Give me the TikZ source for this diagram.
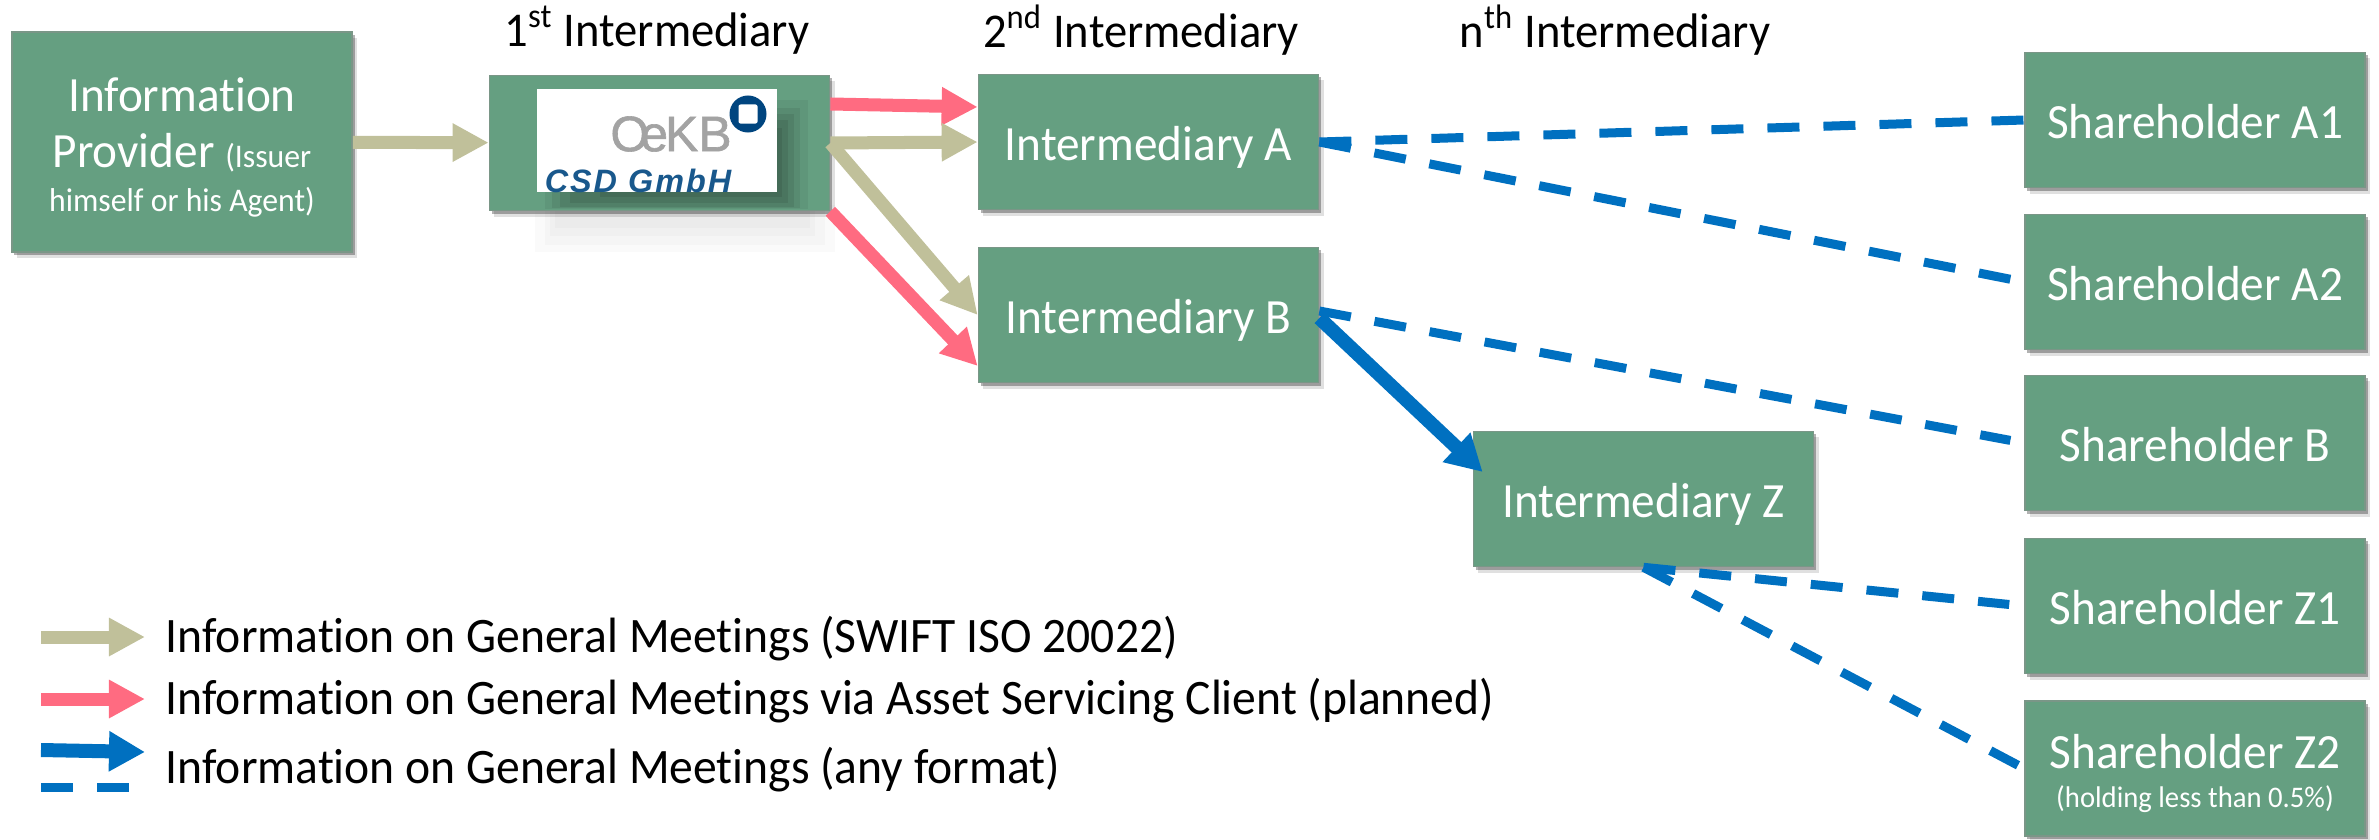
\documentclass[tikz,border=0pt]{standalone}
\usepackage{fontspec}
\setmainfont[FakeStretch=0.96,Ligatures=NoCommon]{Carlito}
\newfontfamily\logofont{Liberation Sans}
\newfontfamily\logoheavy[FakeBold=1.2]{Liberation Sans}
\usetikzlibrary{arrows.meta,shadows,positioning}
\definecolor{boxgreen}{RGB}{101,159,129}
\definecolor{boxedge}{RGB}{122,150,135}
\definecolor{flowtan}{RGB}{192,192,154}
\definecolor{flowpink}{RGB}{255,107,129}
\definecolor{flowblue}{RGB}{0,112,192}
\definecolor{logoblue}{RGB}{0,69,127}
\tikzset{
  box/.style={draw=boxedge,fill=boxgreen,line width=0.015cm,text=white,align=center,inner sep=0pt,
    minimum width=3.40cm,minimum height=1.35cm,text height=0.37cm,text depth=0pt,font=\fontsize{14}{16}\selectfont,
    drop shadow={shadow xshift=0.05cm,shadow yshift=-0.06cm,fill=black,opacity=0.12},
    drop shadow={shadow xshift=0.025cm,shadow yshift=-0.03cm,fill=black,opacity=0.3}},
  boxtext/.style={text=white,font=\fontsize{14}{16}\selectfont},
  smalltext/.style={text=white,font=\fontsize{9.4}{11}\selectfont},
  head/.style={font=\fontsize{13.8}{16}\selectfont},
  info/.style={anchor=west,inner sep=0pt,text height=0.37cm,text depth=0.1cm,font=\fontsize{14.1}{16}\selectfont},
  tanflow/.style={draw=flowtan,line width=0.13cm,-{Triangle[length=0.36cm,width=0.36cm]}},
  pinkflow/.style={draw=flowpink,line width=0.13cm,-{Triangle[length=0.36cm,width=0.36cm]}},
  blueflow/.style={draw=flowblue,line width=0.14cm,-{Triangle[length=0.36cm,width=0.38cm]}},
  bluedash/.style={draw=flowblue,line width=0.09cm,dash pattern=on 0.32cm off 0.24cm}
}
\begin{document}
\begin{tikzpicture}[x=0.01cm,y=-0.01cm]
  \useasboundingbox (0,0) rectangle (2379,839);
  % Soft shadow below the first intermediary
  \fill[black,opacity=0.02] (535,205) rectangle (835,252);
  \fill[black,opacity=0.02] (545,205) rectangle (825,245);
  \fill[black,opacity=0.02] (550,205) rectangle (815,236);
  \fill[black,opacity=0.02] (555,205) rectangle (810,228);
  % The boxes on the left
  \path (182,142) node[box,minimum height=2.2cm] (provider) {};
  \path (182,95) node[boxtext] (providerA) {Information};
  \path (182,153) node[boxtext] (providerB) {Provider {\fontsize{9.4}{11}\selectfont (Issuer}};
  \path (182,202) node[smalltext] (providerC) {himself or his Agent)};
  \path (659.5,143) node[box] (first) {};
  \fill[black,opacity=0.05] (545,100) rectangle (808,209);
  \fill[black,opacity=0.07] (552,108) rectangle (800,208);
  \fill[black,opacity=0.08] (560,114) rectangle (794,207);
  \fill[black,opacity=0.08] (570,120) rectangle (788,203);
  \fill[black,opacity=0.08] (600,128) rectangle (782,197);
  % The logo inside it
  \path (657,140.5) node[fill=white,minimum width=2.4cm,minimum height=1.03cm,inner sep=0pt] (logo) {};
  \begin{scope}
    \clip (logo.south west) rectangle (logo.north east);
    \path (671,134) node[text=black!36,font=\logoheavy\fontsize{14.2}{16}\selectfont,inner sep=0pt] (logoname) {O\kern-0.09cm e\kern-0.03cm KB};
    \path (638,181) node[text=logoblue!90,font=\logofont\bfseries\itshape\fontsize{9.2}{11}\selectfont,inner sep=0pt] (logocsd) {C\kern0.02cm S\kern0.02cm D\kern0.02cm\ G\kern0.02cm m\kern0.02cm b\kern0.02cm H};
  \end{scope}
  \path (748,114) node[circle,fill=logoblue,minimum size=0.37cm,inner sep=0pt] (logocircle) {};
  \path (748,114) node[fill=white,rounded corners=0.02cm,minimum size=0.19cm,inner sep=0pt] (logosquare) {};
  % Intermediaries
  \path (1148.5,142) node[box] (interA) {Intermediary A};
  \path (1148.5,315) node[box] (interB) {Intermediary B};
  \path (1643.5,499) node[box] (interZ) {Intermediary Z};
  % Shareholders
  \path (2195,120) node[box] (holderAa) {Shareholder A1};
  \path (2195,282) node[box] (holderAb) {Shareholder A2};
  \path (2195,443) node[box] (holderB) {Shareholder B};
  \path (2195,606) node[box] (holderZa) {Shareholder Z1};
  \path (2195,768.5) node[box,text height=0pt] (holderZb) {};
  \path (2195,752) node[boxtext] (holderZc) {Shareholder Z2};
  \path (2195,799) node[text=white,font=\fontsize{8.5}{10}\selectfont] (holderZd) {(holding less than 0.5\%)};
  % Column headings
  \path (657,30) node[head] (headA) {1\textsuperscript{st} Intermediary};
  \path (1141,30) node[head] (headB) {2\textsuperscript{nd} Intermediary};
  \path (1615,30) node[head] (headC) {n\textsuperscript{th} Intermediary};
  % Solid flows
  \draw[tanflow] (provider) -- (first);
  \draw[pinkflow] ([yshift=0.39cm]first.east) -- ([yshift=0.35cm]interA.west);
  \draw[tanflow] (first.east) -- (interA.west);
  \draw[tanflow] (first.east) -- (interB.west);
  \draw[pinkflow] (first.south east) -- ([yshift=-0.51cm]interB.west);
  \draw[blueflow] ([yshift=-0.03cm]interB.east) -- ([yshift=0.27cm,xshift=0.1cm]interZ.west);
  % Dashed flows
  \draw[bluedash] (interA.east) -- (holderAa.west);
  \draw[bluedash,shorten >=0.14cm] (interA.east) -- (holderAb.west);
  \draw[bluedash,shorten >=0.14cm] ([yshift=0.04cm]interB.east) -- (holderB.west);
  \draw[bluedash,shorten >=0.15cm] (interZ.south) -- (holderZa.west);
  \draw[bluedash,shorten >=0.07cm] (interZ.south) -- (holderZb.west);
  % Legend
  \path (165,639) node[info] (infoA) {Information on General Meetings (SWIFT ISO 20022)};
  \path (165,701) node[info] (infoB) {Information on General Meetings via Asset Servicing Client (planned)};
  \path (165,770) node[info] (infoC) {Information on General Meetings (any format)};
  \coordinate (keyA) at (41,637);
  \coordinate (keyAend) at (145,637);
  \coordinate (keyB) at (41,699);
  \coordinate (keyBend) at (145,699);
  \coordinate (keyC) at (41,750);
  \coordinate (keyCend) at (145,752);
  \coordinate (keyD) at (41,787);
  \coordinate (keyDend) at (129,787);
  \draw[tanflow] (keyA) -- (keyAend);
  \draw[pinkflow] (keyB) -- (keyBend);
  \draw[blueflow] (keyC) -- (keyCend);
  \draw[bluedash] (keyD) -- (keyDend);
\end{tikzpicture}
\end{document}
